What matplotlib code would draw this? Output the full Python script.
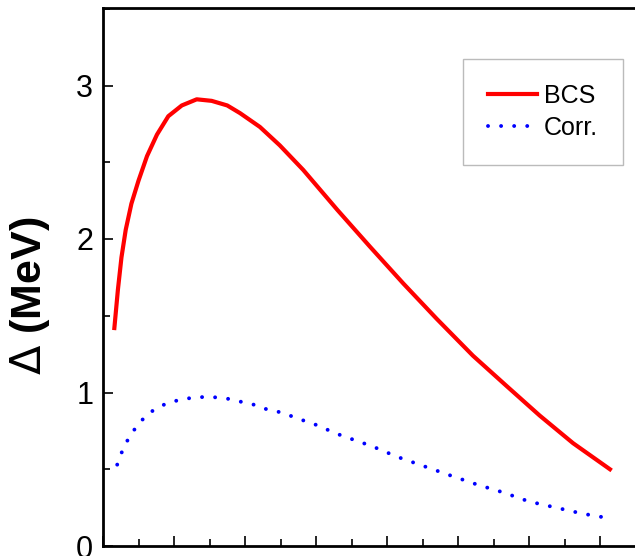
import matplotlib
matplotlib.use("Agg")
import matplotlib.pyplot as plt
from matplotlib.ticker import MultipleLocator

plt.rcParams['font.family'] = ['Liberation Sans', 'DejaVu Sans']
plt.rcParams['mathtext.fontset'] = 'dejavusans'

# BCS gap
x_bcs = [0.16, 0.21, 0.26, 0.32, 0.40, 0.50, 0.62, 0.76, 0.92, 1.11, 1.32,
         1.53, 1.75, 1.93, 2.21, 2.49, 2.82, 3.30, 3.76, 4.23, 4.70, 5.21,
         5.69, 6.15, 6.62, 7.14]
d_bcs = [1.42, 1.67, 1.88, 2.06, 2.23, 2.38, 2.54, 2.68, 2.80, 2.87, 2.91,
         2.90, 2.87, 2.82, 2.73, 2.61, 2.45, 2.19, 1.95, 1.71, 1.48, 1.24,
         1.04, 0.85, 0.67, 0.50]

# correlated gap
x_corr = [0.20, 0.28, 0.37, 0.49, 0.63, 0.80, 0.97, 1.17, 1.35, 1.55, 1.75,
          1.94, 2.13, 2.31, 2.51, 2.69, 2.87, 3.06, 3.24, 3.42, 3.79, 4.15,
          4.52, 4.89, 5.27, 5.63, 6.00, 6.38, 6.76, 7.14]
d_corr = [0.53, 0.63, 0.71, 0.79, 0.86, 0.91, 0.94, 0.96, 0.97, 0.97, 0.96,
          0.94, 0.92, 0.89, 0.87, 0.84, 0.81, 0.78, 0.74, 0.71, 0.65, 0.58,
          0.52, 0.46, 0.40, 0.35, 0.29, 0.25, 0.21, 0.18]

fig = plt.figure(figsize=(6.35, 5.56), dpi=100)
ax = fig.add_axes([103/635, 10/556, 542/635, 538/556])

ax.plot(x_bcs, d_bcs, color='red', lw=3, label='BCS')
ax.plot(x_corr, d_corr, color='blue', lw=2.8, linestyle=(0, (0.01, 3.35)),
        dash_capstyle='round', label='Corr.')

ax.set_xlim(0, 542/71)
ax.set_ylim(0, 538/153.5)

ax.xaxis.set_major_locator(MultipleLocator(1))
ax.xaxis.set_minor_locator(MultipleLocator(0.5))
ax.yaxis.set_major_locator(MultipleLocator(1))
ax.yaxis.set_minor_locator(MultipleLocator(0.5))
ax.tick_params(which='both', direction='in', width=1.2, labelsize=22,
               labelbottom=False, pad=7)
ax.tick_params(which='major', length=7)
ax.tick_params(which='minor', length=5)

for s in ax.spines.values():
    s.set_linewidth(2)
ax.spines['right'].set_visible(False)

ax.set_ylabel(r'$\Delta$ (MeV)', fontsize=31, fontweight='bold')
ax.yaxis.set_label_coords(-0.094, 0.465)

leg = ax.legend(loc='upper left', bbox_to_anchor=(0.664, 0.905),
                fontsize=18, frameon=True, fancybox=False, borderpad=1.0,
                handlelength=1.95, handletextpad=0.3, labelspacing=0.3,
                borderaxespad=0)
leg.get_frame().set_edgecolor('#aaaaaa')
leg.get_frame().set_linewidth(1)

fig.savefig('out.png', dpi=100)
